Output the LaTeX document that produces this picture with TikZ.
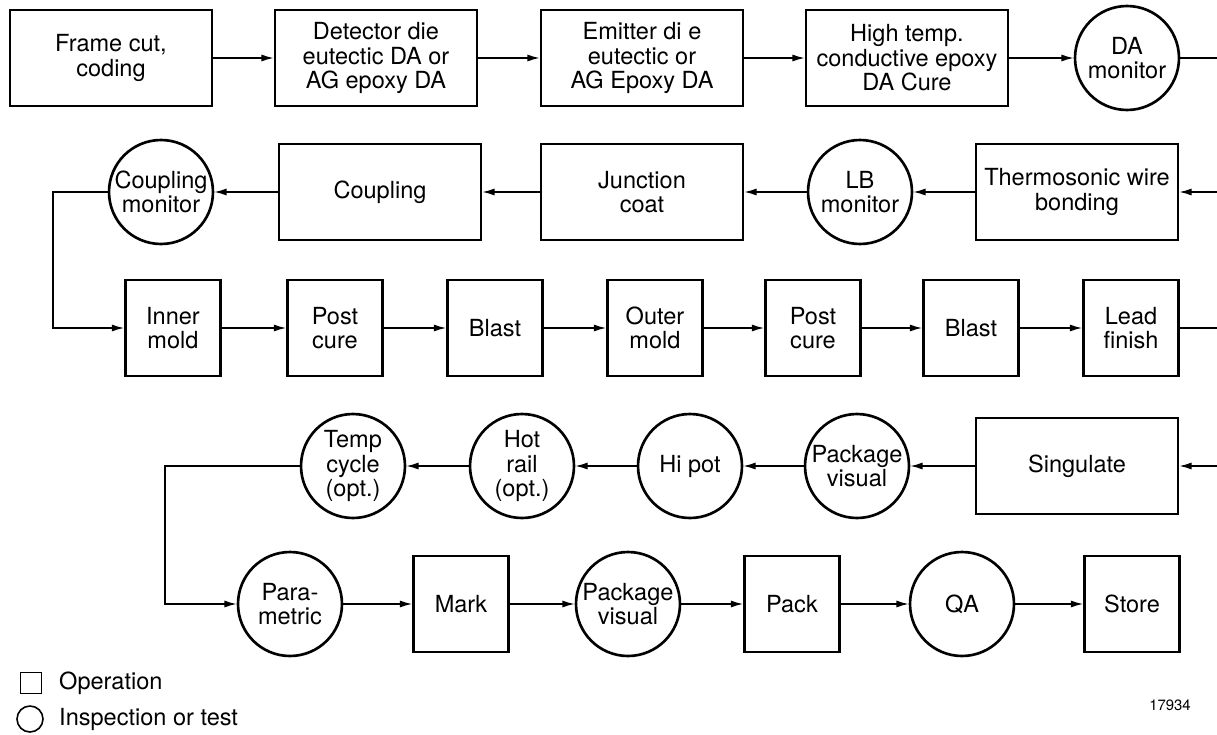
\documentclass[tikz,border=0pt]{standalone}
\usepackage{fontspec}
\setmainfont{TeX Gyre Heros}
\usetikzlibrary{arrows.meta}

\begin{document}
\begin{tikzpicture}[
    x=0.02cm,
    y=-0.02cm,
    font=\fontsize{13.4}{14}\selectfont,
    opbox/.style={
        draw,
        line width=1.5pt,
        align=center,
        inner sep=0pt,
        minimum width=1.9cm,
        minimum height=1.92cm
    },
    widebox/.style={opbox, minimum width=4.04cm},
    testring/.style={
        draw,
        circle,
        line width=1.5pt,
        align=center,
        inner sep=0pt,
        minimum size=2.08cm
    },
    flow/.style={line width=0.8pt, -{Latex[length=7pt,width=4pt]}},
    feed/.style={line width=0.8pt}
]
\useasboundingbox (0,0) rectangle (1217,734);

% Row 1: die attach
\node[widebox] (frame) at (111,58) {Frame cut,\\coding};
\node[widebox] (det) at (376,58) {Detector die\\eutectic DA or\\AG epoxy DA};
\node[widebox] (emit) at (642,58) {Emitter di e\\eutectic or\\AG Epoxy DA};
\node[widebox] (cure) at (907,58) {High temp.\\conductive epoxy\\DA Cure};
\node[testring] (damon) at (1127,58) {DA\\monitor};
\coordinate (out1) at (1217,58);

% Row 2: bonding and coupling (runs right to left)
\coordinate (in2) at (1217,192);
\node[widebox] (wire) at (1077,192) {Thermosonic wire\\bonding};
\node[testring] (lbmon) at (860,192) {LB\\monitor};
\node[widebox] (junc) at (642,192) {Junction\\coat};
\node[widebox] (coup) at (380,192) {Coupling};
\node[testring] (coupmon) at (161,192) {Coupling\\monitor};
\coordinate (bendA) at (53,192);

% Row 3: molding
\node[opbox] (inner) at (173,328) {Inner\\mold};
\node[opbox] (postA) at (335,328) {Post\\cure};
\node[opbox] (blastA) at (495,328) {Blast};
\node[opbox] (outer) at (655,328) {Outer\\mold};
\node[opbox] (postB) at (813,328) {Post\\cure};
\node[opbox] (blastB) at (971,328) {Blast};
\node[opbox] (lead) at (1131,328) {Lead\\finish};
\coordinate (out3) at (1217,328);

% Row 4: tests (runs right to left)
\coordinate (in4) at (1217,466);
\node[widebox] (sing) at (1077,466) {Singulate};
\node[testring] (pkgA) at (857,466) {Package\\visual};
\node[testring] (hipot) at (690,466) {Hi pot};
\node[testring] (hotrail) at (522,466) {Hot\\rail\\(opt.)};
\node[testring] (tcyc) at (353,466) {Temp\\cycle\\(opt.)};
\coordinate (bendB) at (165,466);

% Row 5: final
\node[testring] (param) at (290,604) {Para-\\metric};
\node[opbox] (mark) at (461,604) {Mark};
\node[testring] (pkgB) at (628,604) {Package\\visual};
\node[opbox] (pack) at (792,604) {Pack};
\node[testring] (qa) at (962,604) {QA};
\node[opbox] (store) at (1132,604) {Store};

% Connectors
\foreach \a/\b in {frame/det, det/emit, emit/cure, cure/damon}
    \draw[flow] (\a) -- (\b);
\draw[feed] (damon) -- (out1);

\draw[flow] (in2) -- (wire);
\foreach \a/\b in {wire/lbmon, lbmon/junc, junc/coup, coup/coupmon}
    \draw[flow] (\a) -- (\b);
\draw[flow] (coupmon) -- (bendA) |- (inner);

\foreach \a/\b in {inner/postA, postA/blastA, blastA/outer, outer/postB, postB/blastB, blastB/lead}
    \draw[flow] (\a) -- (\b);
\draw[feed] (lead) -- (out3);

\draw[flow] (in4) -- (sing);
\foreach \a/\b in {sing/pkgA, pkgA/hipot, hipot/hotrail, hotrail/tcyc}
    \draw[flow] (\a) -- (\b);
\draw[flow] (tcyc) -- (bendB) |- (param);

\foreach \a/\b in {param/mark, mark/pkgB, pkgB/pack, pack/qa, qa/store}
    \draw[flow] (\a) -- (\b);

% Legend
\node[draw, line width=0.9pt, minimum size=0.42cm, inner sep=0pt] (legop) at (31,683) {};
\node[anchor=west] (legoptext) at (53,683) {Operation};
\node[draw, circle, line width=0.9pt, minimum size=0.52cm, inner sep=0pt] (leginsp) at (30,719) {};
\node[anchor=west] (leginsptext) at (53,719) {Inspection or test};

% Figure number
\node[font=\fontsize{8.5}{10}\selectfont] (fignum) at (1170,705) {17934};

\end{tikzpicture}
\end{document}
